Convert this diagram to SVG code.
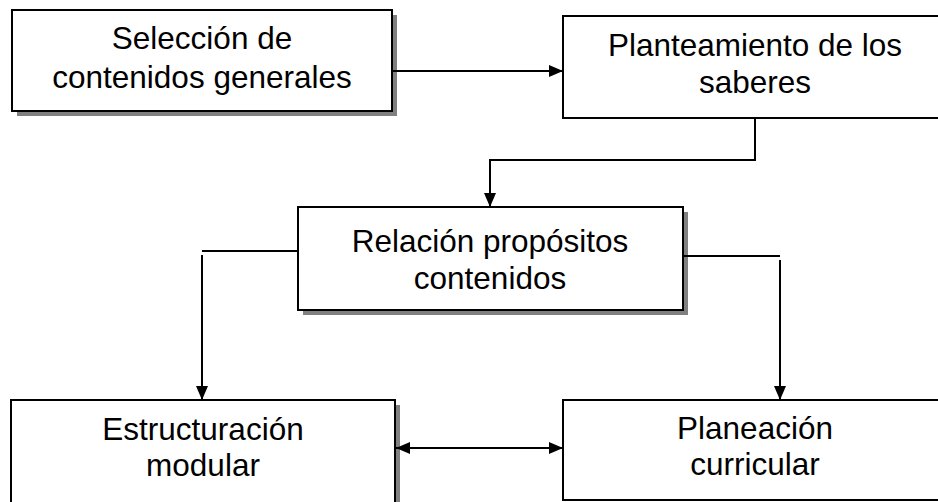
<svg xmlns="http://www.w3.org/2000/svg" width="938" height="502" viewBox="0 0 938 502">
<style>
.box{fill:#fff;stroke:#000;stroke-width:2}
.shadow{fill:#808080}
.t{font-family:"Liberation Sans",Arial,sans-serif;font-size:31.5px;text-anchor:middle;fill:#000}
.c{fill:none;stroke:#000;stroke-width:2}
</style>
<defs>
<marker id="ah" markerUnits="userSpaceOnUse" markerWidth="14" markerHeight="12" refX="14" refY="6" orient="auto-start-reverse">
<path d="M0,0 L14,6 L0,12 Z" fill="#000"/>
</marker>
</defs>
<rect width="938" height="502" fill="#fff"/>
<g id="n1">
<rect class="shadow" x="17" y="15" width="380" height="101"/>
<rect class="box" x="12" y="10" width="380" height="101"/>
<text class="t" x="202" y="49">Selección de</text>
<text class="t" x="202" y="88">contenidos generales</text>
</g>
<g id="n2">
<rect class="box" x="563" y="16" width="390" height="102"/>
<text class="t" x="755" y="56">Planteamiento de los</text>
<text class="t" x="755" y="93">saberes</text>
</g>
<g id="n3">
<rect class="shadow" x="303" y="212" width="385" height="103"/>
<rect class="box" x="298" y="207" width="385" height="103"/>
<text class="t" x="490" y="252">Relación propósitos</text>
<text class="t" x="490" y="289">contenidos</text>
</g>
<g id="n4">
<rect class="shadow" x="16" y="405" width="384" height="110"/>
<rect class="box" x="11" y="400" width="384" height="110"/>
<text class="t" x="203" y="440">Estructuración</text>
<text class="t" x="203" y="476">modular</text>
</g>
<g id="n5">
<rect class="box" x="563" y="400" width="390" height="100"/>
<text class="t" x="755" y="439">Planeación</text>
<text class="t" x="755" y="475">curricular</text>
</g>
<g id="connectors">
<line class="c" x1="392" y1="71" x2="563" y2="71" marker-end="url(#ah)"/>
<polyline class="c" points="755,118 755,160 490,160 490,207" marker-end="url(#ah)"/>
<line class="c" x1="298" y1="251" x2="202" y2="251"/>
<line class="c" x1="202" y1="255" x2="202" y2="400" marker-end="url(#ah)"/>
<line class="c" x1="683" y1="256" x2="780" y2="256"/>
<line class="c" x1="780" y1="260" x2="780" y2="400" marker-end="url(#ah)"/>
<line class="c" x1="396" y1="448" x2="563" y2="448" marker-start="url(#ah)" marker-end="url(#ah)"/>
</g>
</svg>
